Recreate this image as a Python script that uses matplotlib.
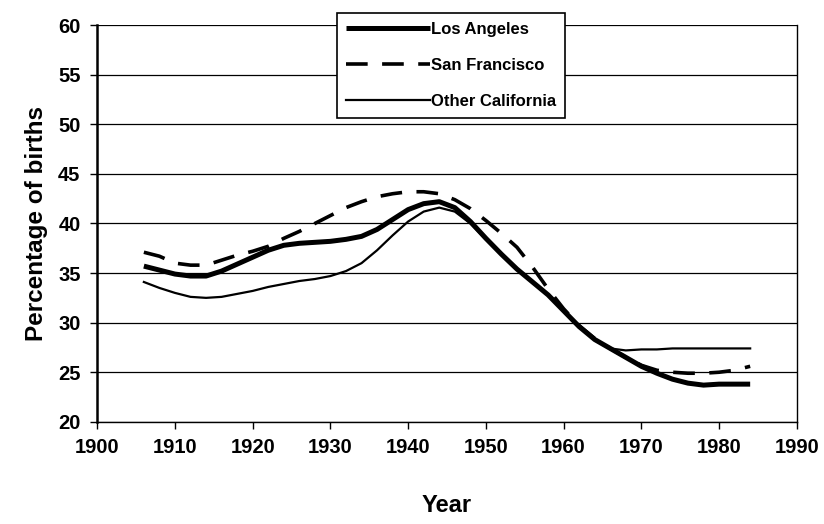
import matplotlib.pyplot as plt

# Datos
years = [1906, 1908, 1910, 1912, 1914, 1916, 1918, 1920, 1922, 1924,
         1926, 1928, 1930, 1932, 1934, 1936, 1938, 1940, 1942, 1944,
         1946, 1948, 1950, 1952, 1954, 1956, 1958, 1960, 1962, 1964,
         1966, 1968, 1970, 1972, 1974, 1976, 1978, 1980, 1982, 1984]

los_angeles = [35.7, 35.3, 34.9, 34.7, 34.7, 35.2, 35.9, 36.6, 37.3, 37.8,
               38.0, 38.1, 38.2, 38.4, 38.7, 39.4, 40.4, 41.4, 42.0, 42.2,
               41.6, 40.2, 38.5, 36.9, 35.4, 34.1, 32.8, 31.2, 29.6, 28.3,
               27.4, 26.5, 25.6, 24.9, 24.3, 23.9, 23.7, 23.8, 23.8, 23.8]

san_francisco = [37.1, 36.7, 36.0, 35.8, 35.8, 36.3, 36.8, 37.2, 37.7, 38.5,
                 39.2, 40.0, 40.8, 41.6, 42.2, 42.7, 43.0, 43.2, 43.2, 43.0,
                 42.4, 41.5, 40.3, 39.0, 37.6, 35.6, 33.4, 31.4, 29.7, 28.4,
                 27.4, 26.5, 25.7, 25.2, 25.0, 24.9, 24.9, 25.0, 25.2, 25.6]

other_ca = [34.1, 33.5, 33.0, 32.6, 32.5, 32.6, 32.9, 33.2, 33.6, 33.9,
            34.2, 34.4, 34.7, 35.2, 36.0, 37.3, 38.8, 40.2, 41.2, 41.6,
            41.2, 40.0, 38.4, 36.9, 35.4, 34.1, 32.8, 31.2, 29.6, 28.3,
            27.4, 27.2, 27.3, 27.3, 27.4, 27.4, 27.4, 27.4, 27.4, 27.4]

xticks = list(range(1900, 1991, 10))
yticks = list(range(20, 61, 5))

plt.rcParams['font.family'] = ['Liberation Sans', 'DejaVu Sans']

fig = plt.figure(figsize=(8.24, 5.24), dpi=100)
ax = fig.add_axes([0.118, 0.195, 0.849, 0.757])

ax.set_xlim(1900, 1990)
ax.set_ylim(20, 60)
ax.set_xticks(xticks)
ax.set_yticks(yticks)
ax.yaxis.grid(True, color='black', linewidth=0.9)
ax.set_axisbelow(True)

ax.plot(years, los_angeles, color='black', linewidth=3.6, label='Los Angeles',
        solid_capstyle='butt')
ax.plot(years, san_francisco, color='black', linewidth=2.6, dashes=(6, 4),
        label='San Francisco')
ax.plot(years, other_ca, color='black', linewidth=1.6, label='Other California')

for s in ax.spines.values():
    s.set_linewidth(1.0)
ax.spines['left'].set_linewidth(1.8)
ax.spines['top'].set_visible(False)

ax.tick_params(direction='out', length=5, width=1, labelsize=14.5, pad=7)
for lab in ax.get_xticklabels() + ax.get_yticklabels():
    lab.set_fontweight('bold')

ax.set_xlabel('Year', fontsize=17, fontweight='bold', labelpad=26)
ax.set_ylabel('Percentage of births', fontsize=17.5, fontweight='bold', labelpad=7)

leg = fig.legend(loc='upper left', bbox_to_anchor=(337 / 824, 1 - 13 / 524),
                 frameon=True, fancybox=False, edgecolor='black',
                 framealpha=1, handlelength=5.0, handletextpad=0.1,
                 labelspacing=1.25, borderpad=0.55, borderaxespad=0,
                 prop={'size': 12, 'weight': 'bold'})
leg.get_frame().set_linewidth(1.2)

fig.savefig('out.png', dpi=100)
